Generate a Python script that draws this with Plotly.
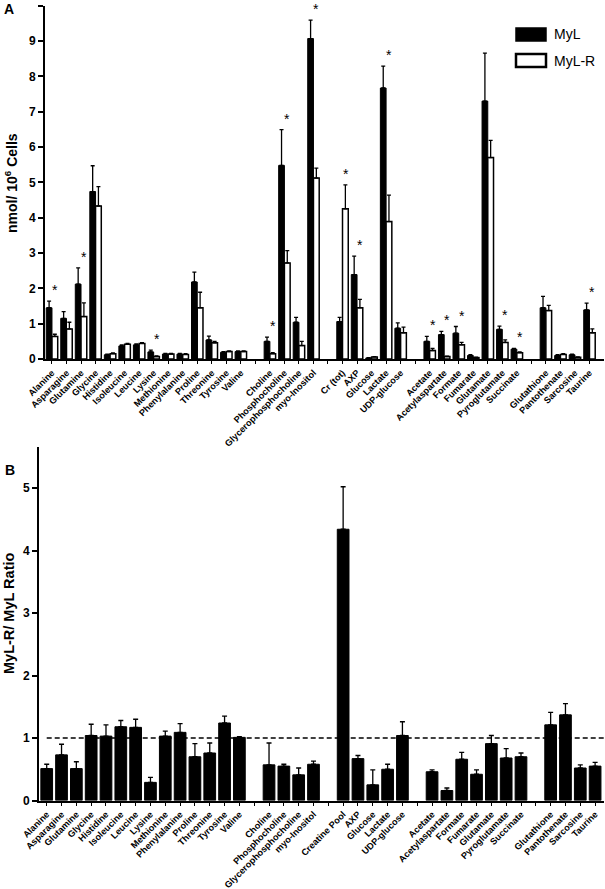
import plotly.graph_objects as go

W, H = 605, 889

# ---------------- data ----------------
cats_A = ["Alanine", "Asparagine", "Glutamine", "Glycine", "Histidine", "Isoleucine", "Leucine",
          "Lysine", "Methionine", "Phenylalanine", "Proline", "Threonine", "Tyrosine", "Valine",
          "\u200b",
          "Choline", "Phosphocholine", "Glycerophosphocholine", "myo-Inositol",
          "\u200b\u200b",
          "Cr (tot)", "AXP", "Glucose", "Lactate", "UDP-glucose",
          "\u200b\u200b\u200b",
          "Acetate", "Acetylaspartate", "Formate", "Fumarate", "Glutamate", "Pyroglutamate", "Succinate",
          "\u200b\u200b\u200b\u200b",
          "Glutathione", "Pantothenate", "Sarcosine", "Taurine"]

cats_B = ["Alanine", "Asparagine", "Glutamine", "Glycine", "Histidine", "Isoleucine", "Leucine",
          "Lysine", "Methionine", "Phenylalanine", "Proline", "Threonine", "Tyrosine", "Valine",
          "\u200b",
          "Choline", "Phosphocholine", "Glycerophosphocholine", "myo-Inositol",
          "\u200b\u200b",
          "Creatine Pool", "AXP", "Glucose", "Lactate", "UDP-glucose",
          "\u200b\u200b\u200b",
          "Acetate", "Acetylaspartate", "Formate", "Fumarate", "Glutamate", "Pyroglutamate", "Succinate",
          "\u200b\u200b\u200b\u200b",
          "Glutathione", "Pantothenate", "Sarcosine", "Taurine"]

myl = [1.45, 1.15, 2.12, 4.74, 0.12, 0.37, 0.40, 0.20, 0.14, 0.14, 2.18, 0.54, 0.19, 0.21, None,
       0.50, 5.48, 1.04, 9.07, None,
       1.06, 2.39, 0.03, 7.67, 0.87, None,
       0.50, 0.69, 0.73, 0.10, 7.30, 0.84, 0.28, None,
       1.45, 0.10, 0.12, 1.39]
myl_err = [0.19, 0.19, 0.46, 0.73, 0.02, 0.03, 0.03, 0.05, 0.02, 0.02, 0.28, 0.11, 0.02, 0.02, None,
           0.12, 1.01, 0.14, 0.52, None,
           0.12, 0.52, 0.01, 0.62, 0.15, None,
           0.14, 0.09, 0.19, 0.02, 1.36, 0.09, 0.02, None,
           0.32, 0.02, 0.02, 0.19]
mylr = [0.64, 0.85, 1.20, 4.33, 0.15, 0.42, 0.44, 0.07, 0.14, 0.13, 1.45, 0.46, 0.21, 0.21, None,
        0.15, 2.72, 0.38, 5.12, None,
        4.25, 1.45, 0.06, 3.89, 0.74, None,
        0.24, 0.07, 0.40, 0.04, 5.70, 0.47, 0.18, None,
        1.37, 0.13, 0.05, 0.74]
mylr_err = [0.06, 0.19, 0.39, 0.55, 0.02, 0.02, 0.02, 0.02, 0.02, 0.02, 0.44, 0.04, 0.02, 0.02, None,
            0.03, 0.35, 0.12, 0.28, None,
            0.68, 0.24, 0.01, 0.75, 0.16, None,
            0.06, 0.01, 0.07, 0.01, 0.49, 0.07, 0.02, None,
            0.15, 0.02, 0.01, 0.11]
significant = ["Alanine", "Glutamine", "Lysine", "Choline", "Phosphocholine", "myo-Inositol",
               "Cr (tot)", "AXP", "Lactate", "Acetate", "Acetylaspartate", "Formate",
               "Pyroglutamate", "Succinate", "Taurine"]

ratio = [0.51, 0.73, 0.51, 1.04, 1.03, 1.18, 1.17, 0.29, 1.03, 1.09, 0.70, 0.76, 1.24, 1.01, None,
         0.57, 0.55, 0.41, 0.58, None,
         4.34, 0.67, 0.25, 0.50, 1.04, None,
         0.46, 0.16, 0.66, 0.42, 0.91, 0.68, 0.70, None,
         1.21, 1.37, 0.52, 0.55]
ratio_err = [0.07, 0.17, 0.11, 0.18, 0.18, 0.10, 0.13, 0.08, 0.08, 0.14, 0.21, 0.16, 0.11, 0.01, None,
             0.35, 0.03, 0.11, 0.05, None,
             0.68, 0.05, 0.24, 0.08, 0.22, None,
             0.03, 0.04, 0.11, 0.07, 0.13, 0.15, 0.06, None,
             0.20, 0.18, 0.05, 0.06]

yticks_A = [0, 1, 2, 3, 4, 5, 6, 7, 8, 9, 10]
yticks_B = [0, 1, 2, 3, 4, 5]
ref_ratio = 1.0

# ---------------- helpers ----------------
def fx(px):
    return px / W


def fy(py):
    return 1 - py / H


FONT = "Liberation Sans, Arial, sans-serif"


def zeros(arr):
    return [0 if v is not None else None for v in arr]


fig = go.Figure()

fig.add_trace(go.Bar(
    x=cats_A, y=myl, name="MyL", xaxis="x", yaxis="y",
    marker=dict(color="black", line=dict(color="black", width=1)),
    error_y=dict(type="data", symmetric=False, array=myl_err, arrayminus=zeros(myl_err),
                 color="black", thickness=1.3, width=2),
    showlegend=False, offsetgroup="a",
))
fig.add_trace(go.Bar(
    x=cats_A, y=mylr, name="MyL-R", xaxis="x", yaxis="y",
    marker=dict(color="white", line=dict(color="black", width=1.5)),
    error_y=dict(type="data", symmetric=False, array=mylr_err, arrayminus=zeros(mylr_err),
                 color="black", thickness=1.3, width=2),
    showlegend=False, offsetgroup="b",
))
fig.add_trace(go.Bar(
    x=cats_B, y=ratio, name="Ratio", xaxis="x2", yaxis="y2",
    marker=dict(color="black", line=dict(color="black", width=1)),
    error_y=dict(type="data", symmetric=False, array=ratio_err, arrayminus=zeros(ratio_err),
                 color="black", thickness=1.3, width=2.5),
    showlegend=False,
))

# significance stars (over MyL-R bars)
annotations = []
for i, c in enumerate(cats_A):
    if c in significant:
        top = max(myl[i] + myl_err[i], mylr[i] + mylr_err[i])
        annotations.append(dict(
            x=c, y=top, xref="x", yref="y", text="*", showarrow=False,
            xshift=3, yshift=11, yanchor="middle",
            font=dict(family=FONT, size=14, color="#000000"),
        ))

# titles and panel letters
annotations += [
    dict(x=fx(11), y=fy(183), xref="paper", yref="paper", text="<b>nmol/ 10<sup>6</sup> Cells</b>",
         textangle=-90, showarrow=False, font=dict(family=FONT, size=14, color="black"),
         xanchor="center", yanchor="middle"),
    dict(x=fx(9), y=fy(613), xref="paper", yref="paper", text="<b>MyL-R/ MyL Ratio</b>",
         textangle=-90, showarrow=False, font=dict(family=FONT, size=14.5, color="black"),
         xanchor="center", yanchor="middle"),
    dict(x=fx(9), y=fy(9), xref="paper", yref="paper", text="<b>A</b>", showarrow=False,
         font=dict(family=FONT, size=14, color="black"), xanchor="center", yanchor="middle"),
    dict(x=fx(10), y=fy(470), xref="paper", yref="paper", text="<b>B</b>", showarrow=False,
         font=dict(family=FONT, size=14, color="black"), xanchor="center", yanchor="middle"),
    dict(x=fx(552), y=fy(34), xref="paper", yref="paper", text="MyL", showarrow=False,
         font=dict(family=FONT, size=14, color="black"), xanchor="left", yanchor="middle"),
    dict(x=fx(552), y=fy(61), xref="paper", yref="paper", text="MyL-R", showarrow=False,
         font=dict(family=FONT, size=14, color="black"), xanchor="left", yanchor="middle"),
]

shapes = [
    dict(type="rect", xref="paper", yref="paper", x0=fx(516), x1=fx(546), y0=fy(41), y1=fy(28),
         fillcolor="black", line=dict(color="black", width=1.5)),
    dict(type="rect", xref="paper", yref="paper", x0=fx(516), x1=fx(546), y0=fy(67), y1=fy(54),
         fillcolor="white", line=dict(color="black", width=2.5)),
    dict(type="line", xref="x2", yref="y2", x0=0, x1=37.6, y0=ref_ratio, y1=ref_ratio,
         line=dict(color="black", width=1.5, dash="5px,3px"), layer="below"),
]

tickfont_x = dict(family=FONT, size=9.1, color="black", weight="bold")
tickfont_y = dict(family=FONT, size=12, color="black", weight="bold")

fig.update_layout(
    width=W, height=H,
    margin=dict(l=0, r=0, t=0, b=0),
    paper_bgcolor="white", plot_bgcolor="white",
    barmode="group", bargap=0.21, bargroupgap=0,
    annotations=annotations, shapes=shapes,
    xaxis=dict(domain=[fx(45), fx(604)], anchor="y", type="category",
               categoryorder="array", categoryarray=cats_A, range=[-0.48, 38.0],
               showline=True, linecolor="black", linewidth=2, ticks="outside", ticklen=3,
               tickwidth=1.3, tickcolor="black", tickangle=-45, tickfont=tickfont_x,
               showgrid=False, zeroline=False, automargin=False, fixedrange=True),
    yaxis=dict(domain=[fy(359), fy(5.7)], anchor="x", range=[0, 10], tickvals=yticks_A,
               showline=True, linecolor="black", linewidth=2, ticks="outside", ticklen=5,
               tickwidth=2, tickcolor="black", tickfont=tickfont_y,
               showgrid=False, zeroline=False, automargin=False),
    xaxis2=dict(domain=[fx(39), fx(604)], anchor="y2", type="category",
                categoryorder="array", categoryarray=cats_B, range=[-0.52, 37.6],
                showline=True, linecolor="black", linewidth=2, ticks="outside", ticklen=3,
                tickwidth=1.3, tickcolor="black", tickangle=-45, tickfont=tickfont_x,
                showgrid=False, zeroline=False, automargin=False),
    yaxis2=dict(domain=[fy(800.5), fy(447)], anchor="x2", range=[0, (800.5 - 447) / 62.5],
                tickvals=yticks_B,
                showline=True, linecolor="black", linewidth=2, ticks="outside", ticklen=5,
                tickwidth=2, tickcolor="black", tickfont=tickfont_y,
                showgrid=False, zeroline=False, automargin=False),
)

fig.write_html(
    "out.html",
    config={"displayModeBar": False},
    post_script="document.body.style.margin='0';document.body.style.overflow='hidden';",
)
